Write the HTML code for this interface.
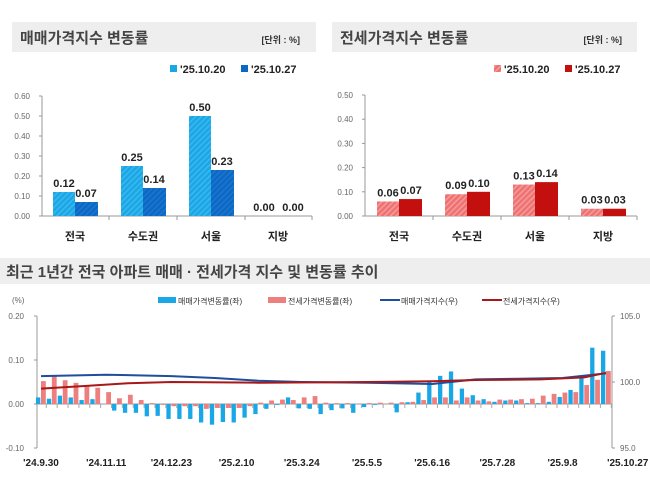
<!DOCTYPE html>
<html><head><meta charset="utf-8"><style>
body{margin:0;background:#fff;width:650px;height:494px;overflow:hidden;font-family:"Liberation Sans","Noto Sans CJK KR",sans-serif}
svg text{font-family:"Liberation Sans","Noto Sans CJK KR",sans-serif}
</style></head><body>
<svg id="s" width="650" height="494" xmlns="http://www.w3.org/2000/svg">
<defs>
<pattern id="hb" width="4" height="4" patternUnits="userSpaceOnUse" patternTransform="rotate(45)"><rect width="4" height="4" fill="#1aa7e6"/><rect width="1.5" height="4" fill="#3cb7ee"/></pattern>
<pattern id="hd" width="4" height="4" patternUnits="userSpaceOnUse" patternTransform="rotate(45)"><rect width="4" height="4" fill="#0d68c4"/><rect width="1.5" height="4" fill="#1a76cf"/></pattern>
<pattern id="hr" width="4" height="4" patternUnits="userSpaceOnUse" patternTransform="rotate(45)"><rect width="4" height="4" fill="#ee7272"/><rect width="1.5" height="4" fill="#f59a9a"/></pattern>
</defs>
<rect x="12" y="22" width="304" height="30" fill="#eeeeee"/>
<text x="20" y="43" font-size="15" font-weight="bold" fill="#444">매매가격지수 변동률</text>
<text x="300" y="43" font-size="9" font-weight="bold" fill="#333" text-anchor="end">[단위 : %]</text>
<rect x="332" y="22" width="305" height="30" fill="#eeeeee"/>
<text x="340" y="43" font-size="15" font-weight="bold" fill="#444">전세가격지수 변동률</text>
<text x="622" y="43" font-size="9" font-weight="bold" fill="#333" text-anchor="end">[단위 : %]</text>
<rect x="0" y="258" width="650" height="26" fill="#eeeeee"/>
<text x="6" y="277" font-size="15" font-weight="bold" fill="#444">최근 1년간 전국 아파트 매매 · 전세가격 지수 및 변동률 추이</text>
</svg>
<script>
const s=document.getElementById('s');let h='';
function T(x,y,t,sz,c,a,w){h+=`<text x="${x}" y="${y}" font-size="${sz}" fill="${c}" text-anchor="${a||'start'}" ${w?'font-weight="bold"':''}>${t}</text>`;}
function R(x,y,w,hh,f){if(hh<0){y+=hh;hh=-hh;}h+=`<rect x="${x}" y="${y}" width="${w}" height="${hh}" fill="${f}"/>`;}
function L(x1,y1,x2,y2,c,w){h+=`<line x1="${x1}" y1="${y1}" x2="${x2}" y2="${y2}" stroke="${c}" stroke-width="${w||1}"/>`;}
const cats=['전국','수도권','서울','지방'];
R(170,65,7,7,'#1aa7e6');T(180,73,"'25.10.20",11,'#222','start',1);
R(241,65,7,7,'#0d68c4');T(251,73,"'25.10.27",11,'#222','start',1);
for(let i=0;i<=6;i++){let y=216-i*20;T(30,y+3,(i/10).toFixed(2),8,'#666','end');L(39,y,42,y,'#999');}
L(42,96,42,216,'#999');L(42,216,312,216,'#999');
let lc=[[.12,.07],[.25,.14],[.5,.23],[0,0]],lx=[53,121,189,256];
lc.forEach((v,i)=>{let x=lx[i];let o=i==3?[-3,4]:[0,0];R(x,216,22,-v[0]*200,'url(#hb)');R(x+22,216,23,-v[1]*200,'url(#hd)');
T(x+11+o[0],216-v[0]*200-5,v[0].toFixed(2),11,'#222','middle',1);T(x+33+o[1],216-v[1]*200-5,v[1].toFixed(2),11,'#222','middle',1);
T(x+22,240,cats[i],11,'#222','middle',1);L(x+56,216,x+56,220,'#999');});
R(494,65,7,7,'url(#hr)');T(504,73,"'25.10.20",11,'#222','start',1);
R(565,65,7,7,'#c40f0f');T(575,73,"'25.10.27",11,'#222','start',1);
for(let i=0;i<=5;i++){let y=216-i*24.2;T(353,y+3,(i/10).toFixed(2),8,'#666','end');L(362,y,365,y,'#999');}
L(365,95,365,216,'#999');L(365,216,637,216,'#999');
let rc=[[.06,.07],[.09,.10],[.13,.14],[.03,.03]],rx=[377,445,513,581];
rc.forEach((v,i)=>{let x=rx[i];R(x,216,22,-v[0]*242,'url(#hr)');R(x+22,216,23,-v[1]*242,'#c40f0f');
T(x+11,216-v[0]*242-5,v[0].toFixed(2),11,'#222','middle',1);T(x+34,216-v[1]*242-5,v[1].toFixed(2),11,'#222','middle',1);
T(x+22,240,cats[i],11,'#222','middle',1);L(x+56,216,x+56,220,'#999');});
T(12,303,'(%)',8,'#666');
R(158,297,18,6,'#1aa7e6');T(178,304,'매매가격변동률(좌)',8,'#333');
R(268,297,18,6,'#ee7f7f');T(288,304,'전세가격변동률(좌)',8,'#333');
L(380,300,400,300,'#1f4e9c',2);T(401,304,'매매가격지수(우)',8,'#333');
L(482,300,502,300,'#a81818',2);T(503,304,'전세가격지수(우)',8,'#333');
const y0=404,k=440;
[[.2,'0.20'],[.1,'0.10'],[0,'0.00'],[-.1,'-0.10']].forEach(a=>{let y=y0-a[0]*k;T(24,y+3,a[1],8,'#666','end');L(34,y,37,y,'#999');});
L(37,316,37,448,'#999');L(612,316,612,448,'#999');
[[105,316,'105.0'],[100,382,'100.0'],[95,448,'95.0']].forEach(a=>{L(612,a[1],615,a[1],'#999');T(620,a[1]+3,a[2],8,'#666');});
L(37,404,612,404,'#999');
const B=[.015,.012,.019,.015,.009,.011,0,-.015,-.02,-.02,-.028,-.027,-.034,-.034,-.034,-.042,-.047,-.041,-.042,-.031,-.023,-.011,-.002,.015,-.01,-.011,-.023,-.014,-.01,-.02,-.007,-.002,0,-.019,.004,.026,.05,.064,.074,.035,.02,.011,.005,.008,.008,.002,.002,.005,.016,.032,.06,.128,.121,.07];
const Rr=[.044,.052,.065,.054,.048,.041,.037,.027,.013,.021,.009,.002,-.002,-.005,-.005,-.005,-.011,-.009,-.009,-.009,-.005,.003,.008,.01,.009,.015,.018,.003,.002,.002,0,.002,.003,.003,.004,.005,.009,.015,.015,.008,.015,.008,.006,.01,.01,.011,.012,.019,.023,.026,.027,.043,.055,.075,.068];
const n=53,x0=36,dx=(601-x0)/52;
for(let i=0;i<n;i++){let x=x0+i*dx;R(x,y0,4.3,-B[i]*k,'#1aa7e6');R(x+5,y0,4.8,-Rr[i+1]*k,'#ee7f7f');L(x+10.3,404,x+10.3,408,'#aaa');}
function idx(pts,c){let d='';pts.forEach((p,j)=>{let x=x0+p[0]*dx+5,y=382-(p[1]-100)*13.2;d+=(j?'L':'M')+x.toFixed(1)+','+y.toFixed(1);});h+=`<path d="${d}" fill="none" stroke="${c}" stroke-width="2"/>`;}
idx([[0,100.45],[6,100.55],[12,100.45],[16,100.3],[20,100.1],[24,100.0],[30,99.95],[36,99.85],[40,100.2],[44,100.25],[48,100.3],[52,100.65]],'#1f4e9c');
idx([[0,99.5],[4,99.7],[8,99.9],[12,100.0],[20,99.95],[30,100.0],[36,100.05],[40,100.15],[46,100.2],[50,100.35],[52,100.7]],'#a81818');
['\'24.9.30','\'24.11.11','\'24.12.23','\'25.2.10','\'25.3.24','\'25.5.5','\'25.6.16','\'25.7.28','\'25.9.8','\'25.10.27'].forEach((t,i)=>{T(x0+5+i*6*dx,466,t,10,'#222','middle',1);});
s.insertAdjacentHTML('beforeend',h);
</script>
</body></html>
